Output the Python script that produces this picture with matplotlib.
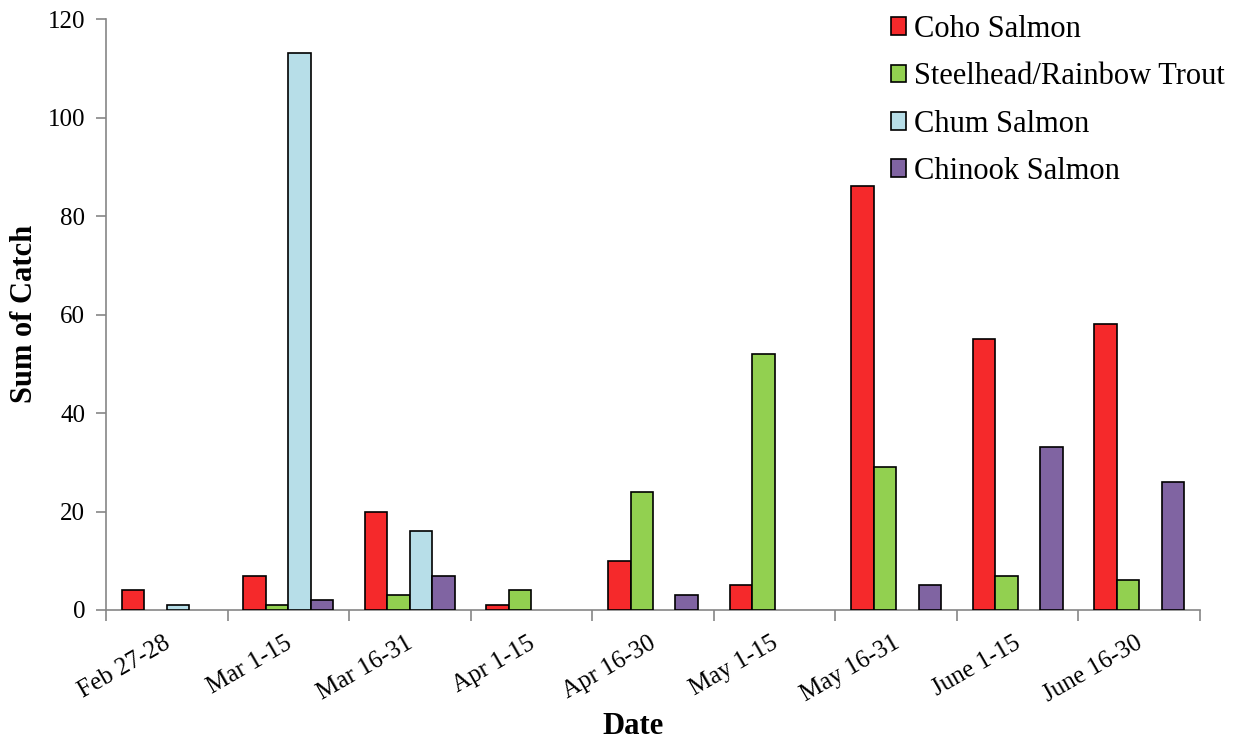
import matplotlib
import matplotlib.pyplot as plt
import numpy as np
from matplotlib.transforms import ScaledTranslation

matplotlib.use('Agg')

plt.rcParams['font.family'] = ['Liberation Serif', 'DejaVu Serif']

periods = ["Feb 27-28", "Mar 1-15", "Mar 16-31", "Apr 1-15", "Apr 16-30",
           "May 1-15", "May 16-31", "June 1-15", "June 16-30"]

coho = [4, 7, 20, 1, 10, 5, 86, 55, 58]
steelhead = [0, 1, 3, 4, 24, 52, 29, 7, 6]
chum = [1, 113, 16, 0, 0, 0, 0, 0, 0]
chinook = [0, 2, 7, 0, 3, 0, 5, 33, 26]

species = ["Coho Salmon", "Steelhead/Rainbow Trout", "Chum Salmon", "Chinook Salmon"]
colors = ["#F5292B", "#92D050", "#B7DEE8", "#8064A2"]
axis_gray = "#868686"

fig = plt.figure(figsize=(12.35, 7.44), dpi=100)
ax = fig.add_axes([106 / 1235, 1 - 610 / 744, 1094 / 1235, 591 / 744])

x = np.arange(len(periods))
bar_w = 0.185
for i, (vals, name, col) in enumerate(zip([coho, steelhead, chum, chinook], species, colors)):
    vals = np.array(vals, dtype=float)
    # empty bars are left out rather than drawn as a flat line
    heights = np.where(vals > 0, vals, np.nan)
    ax.bar(x + (i - 1.5) * bar_w, heights, width=bar_w, color=col,
           edgecolor='black', linewidth=1.2, label=name, zorder=3)

ax.set_xlim(-0.5, len(periods) - 0.5)
ax.set_ylim(0, 120)
ax.set_yticks(range(0, 121, 20))

ax.set_xticks(x)
ax.set_xticklabels(periods, rotation=30, ha='right', rotation_mode='anchor', fontsize=18)
ax.set_xticks(np.arange(-0.5, len(periods)), minor=True)
ax.tick_params(axis='x', which='major', length=0, pad=16)
ax.tick_params(axis='x', which='minor', length=8, width=1.2, color=axis_gray, direction='out')
ax.tick_params(axis='y', length=7, width=1.2, color=axis_gray, labelsize=18, pad=8)

# nudge the slanted date labels a touch to the left
shift = ScaledTranslation(-4 / 100, 0, fig.dpi_scale_trans)
for lbl in ax.get_xticklabels():
    lbl.set_transform(lbl.get_transform() + shift)

for side in ['top', 'right']:
    ax.spines[side].set_visible(False)
for side in ['left', 'bottom']:
    ax.spines[side].set_color(axis_gray)
    ax.spines[side].set_linewidth(1.2)

fig.text(25 / 1235, 1 - 314 / 744, "Sum of Catch", rotation=90, ha='center', va='center',
         fontsize=22, fontweight='bold')
fig.text(633 / 1235, 1 - 727 / 744, "Date", ha='center', va='center',
         fontsize=22, fontweight='bold')

ax.legend(loc='upper left', bbox_to_anchor=(891 / 1235, 1 - 15 / 744),
          bbox_transform=fig.transFigure, frameon=False, fontsize=22,
          handlelength=0.5, handleheight=0.5, handletextpad=0.25,
          labelspacing=0.6, borderpad=0, borderaxespad=0)

fig.savefig("out.png", dpi=100)
